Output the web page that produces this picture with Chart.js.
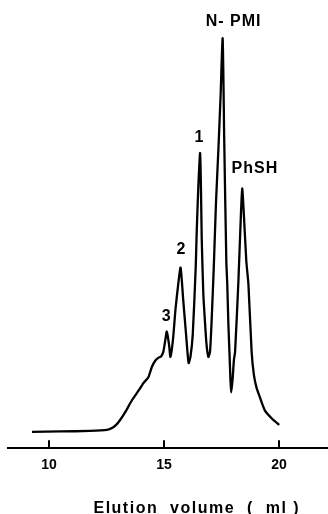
<!DOCTYPE html>
<html><head><meta charset="utf-8">
<script src="https://cdn.jsdelivr.net/npm/chart.js@4/dist/chart.umd.min.js"></script>
<style>html,body{margin:0;padding:0;background:#fff}#wrap{width:328px;height:514px;position:relative}</style>
</head><body><div id="wrap"><canvas id="c"></canvas></div>
<script>
// Elution volume (ml) and detector signal (arbitrary units)
const elutionVolume = [9.26,10.48,11.78,12.52,12.78,12.96,13.13,13.30,13.60,13.81,13.96,14.10,14.32,14.47,14.61,14.75,14.87,14.97,15.06,15.12,15.22,15.28,15.39,15.50,15.61,15.72,15.84,15.96,16.07,16.15,16.25,16.38,16.42,16.50,16.57,16.61,16.64,16.71,16.78,16.85,16.93,17.00,17.07,17.17,17.26,17.36,17.46,17.55,17.62,17.71,17.75,17.80,17.85,17.89,17.92,17.98,18.04,18.09,18.23,18.33,18.40,18.48,18.58,18.67,18.81,18.91,19.02,19.14,19.39,19.70,20.01];
const signal = [16,16.5,17,18,20.5,24,29,35,47,54,59,64,70,80,86,89,90.5,95,107,115,102,90,107,137,160,178,145,112,84,90,112,179,212,262,291,252,207,152,125,102,90,95,125,182,242,292,347,404,302,184,162,122,92,67,55,67,87,95,162,222,256,227,184,162,95,72,60,52,37,29,23];
const xTickValues = [10, 15, 20];
const xAxisTitle = 'Elution  volume  (  ml )';
const peakNames = ['3', '2', '1', 'N- PMI', 'PhSH'];
const peakVolumes = [15.12, 15.72, 16.57, 17.55, 18.40];

const FONT = "'Liberation Sans', Arial, sans-serif";
const labelOffsets = { '3': [0, -15], '2': [1, -18], '1': [-0.7, -15], 'N- PMI': [11, -17], 'PhSH': [12.7, -20] };

const points = elutionVolume.map((v, i) => ({ x: v, y: signal[i] }));

const tickMarks = {
  id: 'tickMarks',
  afterDraw(chart) {
    const xs = chart.scales.x, ctx = chart.ctx;
    ctx.save();
    ctx.strokeStyle = '#000'; ctx.lineWidth = 2;
    xTickValues.forEach(v => {
      const px = Math.round(xs.getPixelForValue(v));
      ctx.beginPath(); ctx.moveTo(px, xs.top); ctx.lineTo(px, xs.top - 8); ctx.stroke();
    });
    ctx.restore();
  }
};

const peakLabels = {
  id: 'peakLabels',
  afterDatasetsDraw(chart) {
    const xs = chart.scales.x, ys = chart.scales.y, ctx = chart.ctx;
    ctx.save();
    ctx.fillStyle = '#000';
    ctx.font = 'bold 16px ' + FONT;
    ctx.textAlign = 'center'; ctx.textBaseline = 'middle';
    if ('letterSpacing' in ctx) ctx.letterSpacing = '1px';
    peakNames.forEach((name, i) => {
      const vol = peakVolumes[i];
      let h = 0;
      elutionVolume.forEach((v, j) => { if (Math.abs(v - vol) < 0.06 && signal[j] > h) h = signal[j]; });
      const off = labelOffsets[name] || [0, -16];
      ctx.fillText(name, xs.getPixelForValue(vol) + off[0], ys.getPixelForValue(h) + off[1]);
    });
    ctx.restore();
  }
};

const xTitle = {
  id: 'xTitle',
  afterDraw(chart) {
    const ctx = chart.ctx, a = chart.chartArea;
    ctx.save();
    ctx.fillStyle = '#000';
    ctx.font = 'bold 16px ' + FONT;
    ctx.textAlign = 'center'; ctx.textBaseline = 'alphabetic';
    if ('letterSpacing' in ctx) ctx.letterSpacing = '1.5px';
    ctx.fillText(xAxisTitle, a.left + (a.right - a.left) * 0.59, chart.height - 1.5);
    ctx.restore();
  }
};

new Chart(document.getElementById('c'), {
  type: 'line',
  data: { datasets: [{ data: points, borderColor: '#000', borderWidth: 2.3, pointRadius: 0, fill: false, tension: 0.2 }] },
  options: {
    responsive: true, maintainAspectRatio: false, animation: false,
    layout: { padding: { left: 8, right: 0, top: 10, bottom: 31 } },
    plugins: { legend: { display: false }, tooltip: { enabled: false } },
    scales: {
      x: {
        type: 'linear', min: 10 - 41 / 23, max: 10 - 41 / 23 + 320 / 23,
        afterBuildTicks: s => { s.ticks = xTickValues.map(v => ({ value: v })); },
        grid: { display: false, drawTicks: false },
        border: { display: true, color: '#000', width: 2 },
        ticks: { color: '#000', font: { size: 14, family: FONT, weight: 'bold' }, padding: 9, autoSkip: false, maxRotation: 0 }
      },
      y: { display: false, min: 0, max: 432 }
    }
  },
  plugins: [tickMarks, peakLabels, xTitle]
});
</script>
</body></html>
